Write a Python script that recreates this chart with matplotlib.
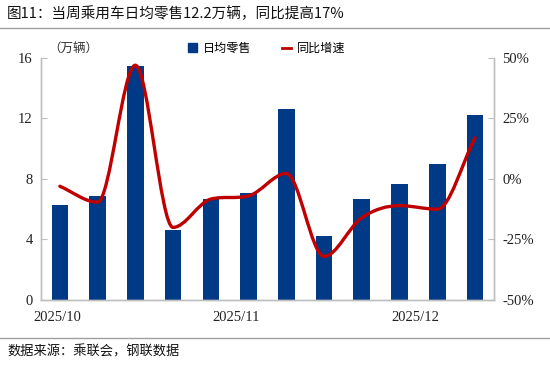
import matplotlib
matplotlib.use("Agg")
import matplotlib.pyplot as plt
from matplotlib.path import Path
from matplotlib.patches import PathPatch, Rectangle
from matplotlib.lines import Line2D
import numpy as np

plt.rcParams['font.family'] = ['Noto Sans CJK SC', 'DejaVu Sans']

title = "图11：当周乘用车日均零售12.2万辆，同比提高17%"
source = "数据来源：乘联会，钢联数据"
unit_label = "（万辆）"
bar_name = "日均零售"
line_name = "同比增速"

daily_retail = [6.3, 6.9, 15.5, 4.6, 6.7, 7.1, 12.6, 4.2, 6.7, 7.7, 9.0, 12.2]
yoy_growth = [-3, -9.6, 47, -20, -8.3, -7, 2.3, -32, -16, -11, -12.5, 17]
month_labels = ["2025/10", "2025/11", "2025/12"]
month_positions = [-0.08, 4.67, 9.43]

left_ticks = [0, 4, 8, 12, 16]
right_ticks = [-50, -25, 0, 25, 50]

BLUE = "#003A87"
RED = "#C00000"
GRAY = "#BFBFBF"
serif = ['Liberation Serif', 'DejaVu Serif']

fig = plt.figure(figsize=(5.5, 3.67), dpi=100)
ax = fig.add_axes([0.0745, 0.1826, 0.8235, 0.6594])
ax2 = ax.twinx()

x = np.arange(len(daily_retail))
ax.bar(x, daily_retail, width=0.44, color=BLUE, zorder=2)
ax.set_xlim(-0.5, len(daily_retail) - 0.5)
ax.set_ylim(0, 16)
ax.set_yticks(left_ticks)
ax.set_yticklabels([str(t) for t in left_ticks], family=serif, fontsize=10.5)
ax.set_xticks(month_positions)
ax.set_xticklabels(month_labels, family=serif, fontsize=10.5)
ax.tick_params(axis='x', length=0, pad=8, colors='#222222')
ax.tick_params(axis='y', direction='in', length=4, color=GRAY, colors='#222222', pad=6)

ax2.set_ylim(-50, 50)
ax2.set_yticks(right_ticks)
ax2.set_yticklabels([f"{t}%" for t in right_ticks], family=serif, fontsize=10.5)
ax2.tick_params(axis='y', direction='in', length=4, color=GRAY, colors='#222222', pad=6)

for a in (ax, ax2):
    a.spines['top'].set_visible(False)
    for s in ('left', 'right', 'bottom'):
        a.spines[s].set_color(GRAY)
        a.spines[s].set_linewidth(1)

# smoothed line: cubic Bezier through the data points, monotone-limited tangents
xs = x.astype(float)
ys = np.array(yoy_growth, dtype=float)
n = len(ys)
d = np.diff(ys)
m = np.zeros(n)
m[0] = d[0]
m[-1] = d[-1]
for i in range(1, n - 1):
    if d[i - 1] * d[i] <= 0:
        m[i] = 0.0
    else:
        t = (ys[i + 1] - ys[i - 1]) / 2.0
        lim = 3 * min(abs(d[i - 1]), abs(d[i]))
        m[i] = np.sign(t) * min(abs(t), lim)
verts = [(xs[0], ys[0])]
codes = [Path.MOVETO]
for i in range(n - 1):
    verts += [(xs[i] + 1 / 3, ys[i] + m[i] / 3),
              (xs[i + 1] - 1 / 3, ys[i + 1] - m[i + 1] / 3),
              (xs[i + 1], ys[i + 1])]
    codes += [Path.CURVE4] * 3
patch = PathPatch(Path(verts, codes), facecolor='none', edgecolor=RED, lw=2.4,
                  capstyle='round', joinstyle='round', zorder=3)
ax2.add_patch(patch)

# Title, separators, source
fig.text(0.013, 0.962, title, fontsize=10.5, ha='left', va='center', color='#111111')
fig.add_artist(Line2D([0, 1], [0.925, 0.925], color='#A0A0A0', lw=1))
fig.add_artist(Line2D([0, 1], [0.08, 0.08], color='#A0A0A0', lw=1))
fig.text(0.013, 0.04, source, fontsize=9.5, ha='left', va='center', color='#111111')

# unit label
fig.text(0.088, 0.868, unit_label, fontsize=9, ha='left', va='center', color='#333333')

# legend
h1 = Rectangle((0, 0), 1, 1, color=BLUE)
h2 = Line2D([0], [0], color=RED, lw=2)
fig.legend([h1, h2], [bar_name, line_name], loc='center', bbox_to_anchor=(0.485, 0.868),
           ncol=2, frameon=False, fontsize=8.7, handlelength=0.7, handleheight=0.7,
           columnspacing=2.6, handletextpad=0.5)

fig.savefig("out.png", dpi=100)
